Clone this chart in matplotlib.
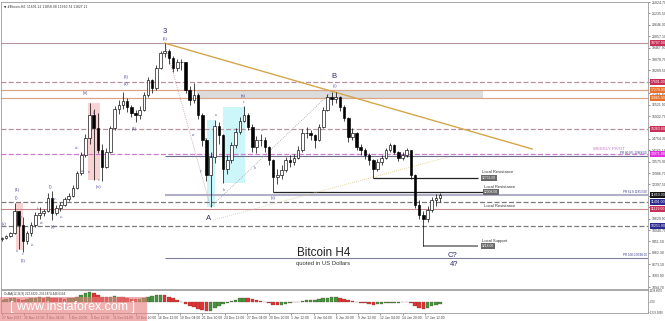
import matplotlib
matplotlib.use('Agg')
import matplotlib.pyplot as plt
from matplotlib.patches import Rectangle
import numpy as np

plt.rcParams['font.family'] = ['Liberation Sans', 'DejaVu Sans']

# ---------------- data ----------------
first_open = 9580
closes = [9630, 9735, 9890, 11000, 10300, 9450, 9900, 10300, 10800, 10900,
          11000, 11700, 10900, 11200, 11350, 11650, 11800, 12200, 12990, 13920,
          14800, 16000, 15300, 14200, 13300, 14100, 15300, 16300, 16500, 16700,
          16400, 16100, 16000, 16250, 17000, 17800, 17380, 18400, 19180, 19300,
          18930, 18400, 18700, 18700, 17280, 16760, 17000, 15990, 14700, 12880,
          13800, 15400, 14950, 13200, 13660, 14440, 15100, 15700, 16000, 15370,
          14330, 14700, 14690, 14330, 13660, 12800, 12880, 13140, 13660, 13560,
          13760, 14180, 15060, 15060, 14950, 14700, 15370, 16240, 16920, 16800,
          16900, 16400, 15830, 14850, 15050, 14330, 14180, 13920, 13660, 13200,
          13560, 13770, 14180, 14440, 14070, 13770, 13920, 14180, 12880, 11340,
          10820, 10600, 11080, 11600, 11700, 11827]
highs = [9700, 9800, 9950, 11440, 11050, 10700, 10000, 10450, 10950, 11250,
         11150, 11950, 12050, 11350, 11500, 11750, 11950, 12350, 13100, 14050,
         15000, 16600, 16300, 16100, 14500, 14300, 15400, 16450, 16750, 17175,
         16850, 16500, 16250, 16450, 17150, 17950, 17850, 18550, 19300, 19700,
         19400, 19050, 18900, 18900, 18750, 17500, 17640, 17100, 16100, 14800,
         14100, 15730, 15600, 15000, 13900, 14600, 15300, 15900, 16450, 16100,
         15500, 14900, 15000, 14850, 14400, 13700, 13200, 13400, 13800, 13900,
         13950, 14400, 15250, 15350, 15200, 15000, 15500, 16400, 17050, 17175,
         17175, 16950, 16500, 15900, 15300, 15100, 14500, 14300, 14000, 13700,
         13700, 13900, 14300, 14550, 14500, 14150, 14050, 14300, 14200, 12950,
         11600, 11000, 11300, 11750, 11900, 11950]
lows = [9500, 9600, 9700, 9850, 9050, 8900, 9300, 9750, 10200, 10600,
        10750, 10950, 10550, 10800, 11050, 11300, 11550, 11750, 12150, 12900,
        13800, 14500, 12650, 14000, 12550, 13250, 14000, 15200, 16050, 16300,
        16150, 15900, 15625, 15800, 16200, 16900, 17100, 17300, 18350, 19000,
        18600, 18200, 18250, 18300, 17100, 16500, 16600, 15800, 14400, 12600,
        11232, 13500, 14500, 12470, 12950, 13500, 14300, 15000, 15600, 15200,
        14100, 14000, 14400, 14100, 13400, 12008, 12400, 12700, 13050, 13300,
        13400, 13700, 14100, 14800, 14700, 14300, 14650, 15300, 16200, 16500,
        16600, 16200, 15700, 14600, 14700, 14200, 13900, 13700, 13400, 12731,
        13100, 13400, 13700, 14100, 13950, 13600, 13650, 13800, 12700, 11200,
        10600, 9218, 10450, 10950, 11300, 11500]
osma = [250, 300, 450, 500, 350, 250, 300, 400, 500, 550,
        500, 520, 480, 420, 400, 380, 400, 450, 600, 850,
        1100, 1250, 1100, 800, 600, 550, 600, 650, 600, 550,
        450, 350, 300, 350, 450, 600, 700, 800, 850, 800,
        600, 400, 150, -100, -350, -550, -700, -900, -1100, -1250,
        -1150, -850, -550, -350, -150, 50, 250, 400, 500, 450,
        350, 200, 50, -100, -250, -400, -450, -400, -300, -200,
        -100, -50, 100, 200, 250, 250, 300, 400, 500, 550,
        550, 450, 300, 150, 50, -50, -150, -250, -350, -400,
        -350, -300, -250, -200, -150, -150, -100, -50, -250, -550,
        -800, -1000, -800, -600, -450, -350]

bar_hours = 12
label_step_hours = 64
date_labels = ['27 Nov 2017', '30 Nov 12:00', '3 Dec 04:00', '5 Dec 20:00', '8 Dec 12:00',
               '11 Dec 04:00', '13 Dec 20:00', '16 Dec 12:00', '19 Dec 04:00', '21 Dec 20:00',
               '24 Dec 12:00', '27 Dec 04:00', '29 Dec 20:00', '1 Jan 12:00', '4 Jan 04:00',
               '6 Jan 20:00', '9 Jan 12:00', '12 Jan 04:00', '14 Jan 20:00', '17 Jan 12:00']

price_top = 21824.70
price_step = 589.2
price_ticks = [price_top - price_step * k for k in range(26)]

ath_level = 19707
dashed_rosy_levels = [17691, 15263]
zone_top, zone_bottom = 17278, 16865
weekly_pivot = 13971
dashed_gray_levels = [11491, 10251]
red_resistance = 11129
fib_808, fib_618, fib_100 = 13868, 11853, 8598
local_res_1, local_res_1_start = 12008, 65
local_res_2, local_res_2_start = 12731, 89
local_sup, local_sup_start = 9218, 101
tag_levels = [19707, 17691, 17278, 16865, 15263, 13971, 11853, 11491, 11129, 10251]
ind_ticks = [1338.885, 0.0, -1338.389]
ind_tick_labels = ['1338.8850', '0.00', '-1338.3890']

# ---------------- figure ----------------
W, H = 665, 321
fig = plt.figure(figsize=(W / 100, H / 100), dpi=100)
fig.patch.set_facecolor('white')
pxbar = 22.25 * bar_hours / label_step_hours  # pixels per bar
x0 = (1 - 2) / pxbar
x1 = (648 - 2) / pxbar

ax = fig.add_axes([1 / W, 1 - 289 / H, 647 / W, 287 / H])
ind = fig.add_axes([1 / W, 1 - 313 / H, 647 / W, 23 / H])

slope = 51.67
ax.set_xlim(x0, x1)
ax.set_ylim(price_top - 287 * slope, price_top)

n = len(closes)
x = np.arange(n)
c = np.array(closes, float)
o = np.array([first_open] + closes[:-1], float)
hi = np.array(highs, float)
lo = np.array(lows, float)

# shaded zones
ax.add_patch(Rectangle((46.8, zone_bottom), 115.3 - 46.8, zone_top - zone_bottom,
                       fc='#dcdcdc', ec='none', zorder=0))
ax.add_patch(Rectangle((3.4, 9011), 1.6, 11439 - 9011, fc='#f9d3d3', ec='none', zorder=0))
ax.add_patch(Rectangle((20.6, 12628), 2.9, 16606 - 12628, fc='#f9d3d3', ec='none', zorder=0))
ax.add_patch(Rectangle((49.2, 11232), 1.9, 15728 - 11232, fc='#cdf6fa', ec='none', zorder=0))
ax.add_patch(Rectangle((53.0, 12473), 5.3, 16400 - 12473, fc='#cdf6fa', ec='none', zorder=0))

# horizontal levels
ax.axhline(ath_level, color='#b8959d', lw=0.8, zorder=1)
for lv in dashed_rosy_levels:
    ax.axhline(lv, color='#b8909e', lw=0.9, dashes=(4, 1.8), zorder=1)
ax.axhline(zone_top, color='#dba58a', lw=0.9, zorder=1)
ax.axhline(zone_bottom, color='#dba58a', lw=0.9, zorder=1)
ax.axhline(weekly_pivot, color='#d07ad0', lw=0.9, dashes=(4, 1.8), zorder=1)
for lv in dashed_gray_levels:
    ax.axhline(lv, color='#7a7a7a', lw=0.9, dashes=(4, 1.8), zorder=1)
ax.axhline(red_resistance, color='#c88890', lw=0.8, zorder=1)
peak_i = int(np.argmax(hi))
ax.hlines(fib_808, peak_i, x1, color='#6e6e8e', lw=0.8, zorder=1)
ax.hlines(fib_618, peak_i, x1, color='#b0b0c8', lw=1.5, zorder=1)
ax.hlines(fib_100, peak_i, x1, color='#7e7e9e', lw=0.8, zorder=1)
ax.hlines(local_res_1, local_res_1_start, 115.3, color='#222222', lw=0.9, zorder=2)
ax.hlines(local_res_2, local_res_2_start, 114.1, color='#222222', lw=0.9, zorder=2)
ax.hlines(local_sup, local_sup_start, 114.1, color='#8a8a8a', lw=1.4, zorder=2)

# trend / wave lines
a_i = 50
b_i = 79
ax.plot([peak_i, 127.1], [hi[peak_i], 14229], color='#d4a64a', lw=1.0, zorder=2)
ax.plot([peak_i, a_i], [hi[peak_i], lo[a_i]], color='#c09aa0', lw=0.6, ls=(0, (1, 1.5)), zorder=2)
ax.plot([a_i, b_i], [lo[a_i], hi[b_i]], color='#a0a0a0', lw=0.6, ls=(0, (1, 1.5)), zorder=2)
ax.plot([50.6, 106.9], [10561, 13816], color='#d8c890', lw=0.6, ls=(0, (1, 1.5)), zorder=2)

# candles
ax.vlines(x, lo, hi, color='black', lw=0.5, zorder=3)
bull = c >= o
bear = ~bull
ax.bar(x[bull], (c - o)[bull], bottom=o[bull], width=0.62, color='white',
       edgecolor='black', lw=0.45, zorder=4)
ax.bar(x[bear], (o - c)[bear], bottom=c[bear], width=0.62, color='black',
       edgecolor='black', lw=0.45, zorder=4)

# wave labels
navy = '#2b2b70'
big_labels = [('3', 39.07, 20326), ('A', 49.4, 10613), ('B', 79.6, 18001),
              ('C?', 107.9, 8752), ('4?', 108.3, 8236)]
for t, xi, yp in big_labels:
    ax.text(xi, yp, t, fontsize=5.5, color=navy, ha='center', va='center', zorder=6)
small_labels = [('(5)', 39.07, 19913), ('(1)', 3.6, 12111), ('(i)', 3.6, 11698), ('(v)', 0.6, 10356),
                ('(2)', 5.03, 8443), ('(3)', 29.7, 17950), ('(v)', 29.7, 17588),
                ('(i)', 11.75, 12266), ('(ii)', 12.2, 10200), ('(iii)', 20.1, 17123),
                ('(iv)', 23.25, 12266), ('(4)', 31.6, 15263), ('(a)', 57.8, 16967),
                ('(b)', 64.95, 11698), ('(c)', 79.8, 17485)]
for t, xi, yp in small_labels:
    ax.text(xi, yp, t, fontsize=2.8, color='#3b3b8b', ha='center', va='center', zorder=6)
tiny_labels = [('a', 3.6, 8950), ('b', 4.55, 10716), ('c', 5.03, 8800), ('b', 22.05, 16090),
               ('a', 20.85, 13041), ('c', 23.25, 12640), ('a', 51.3, 15986), ('b', 53.2, 12111),
               ('c', 58.0, 16658), ('w', 45.8, 14953), ('x', 48.9, 14746), ('y', 47.7, 13093),
               ('a', 62.3, 15211), ('b', 60.6, 13248), ('-i-', 8.6, 11181), ('-ii-', 7.4, 9269),
               ('-iii-', 9.6, 10406), ('-iv-', 12.7, 11646), ('-v-', 14.4, 10716),
               ('-iii-', 18.0, 14281), ('-iv-', 19.4, 13093)]
for t, xi, yp in tiny_labels:
    ax.text(xi, yp, t, fontsize=2.3, color='#55558a', ha='center', va='center', zorder=6)

# titles
ax.text(77.0, price_top - (253 - 2) * slope, 'Bitcoin H4', fontsize=8.4, color='#222222',
        ha='center', va='center', zorder=6)
ax.text(77.0, price_top - (264 - 2) * slope, 'quoted in US Dollars', fontsize=4.2, color='#333333',
        ha='center', va='center', zorder=6)

# local level labels
lbl_x = (482 - 2) / pxbar
ax.text(lbl_x, local_res_2 + 300, 'Local Resistance', fontsize=3, color='#333', ha='left', va='center', zorder=6)
ax.text(lbl_x, local_res_2, f'{local_res_2:.2f}', fontsize=2.4, color='white', ha='left', va='center',
        zorder=6, bbox=dict(boxstyle='square,pad=0.2', fc='#6a6a6a', ec='none'))
lbl_x2 = (484 - 2) / pxbar
ax.text(lbl_x2, local_res_1 + 270, 'Local Resistance', fontsize=3, color='#333', ha='left', va='center', zorder=6)
ax.text(lbl_x2, local_res_1, f'{local_res_1:.2f}', fontsize=2.4, color='white', ha='left', va='center',
        zorder=6, bbox=dict(boxstyle='square,pad=0.2', fc='#6a6a6a', ec='none'))
ax.text(lbl_x2, red_resistance + 160, 'Local Resistance', fontsize=3, color='#333', ha='left', va='center', zorder=6)
ax.text(lbl_x, local_sup + 260, 'Local Support', fontsize=3, color='#333', ha='left', va='center', zorder=6)
ax.text(lbl_x, local_sup, f'{local_sup:.2f}', fontsize=2.4, color='white', ha='left', va='center',
        zorder=6, bbox=dict(boxstyle='square,pad=0.2', fc='#6a6a6a', ec='none'))

ax.text((625 - 2) / pxbar, weekly_pivot + 150, 'WEEKLY PIVOT', fontsize=3.2, color='#c878c8',
        ha='right', va='bottom', zorder=6)
ax.text(x1 - 0.3, fib_808 + 60, f'PR 80.8% {fib_808:.2f}', fontsize=2.2, color='#3a3a8a', ha='right', va='bottom', zorder=6)
ax.text(x1 - 0.3, fib_618 + 60, f'PR 61.8 {fib_618:.2f}', fontsize=2.2, color='#3a3a8a', ha='right', va='bottom', zorder=6)
ax.text(x1 - 0.3, fib_100 + 60, f'PR 100.0 {fib_100:.2f}', fontsize=2.2, color='#3a3a8a', ha='right', va='bottom', zorder=6)

ax.text(0.004, 0.992, '\u25bc #Bitcoin,H4  11691.22 11858.08 11560.74 11827.21', transform=ax.transAxes,
        fontsize=2.2, color='#333', ha='left', va='top', family=['DejaVu Sans'])

# right axis
ax.yaxis.tick_right()
ax.set_yticks(price_ticks)
ax.set_yticklabels([f'{p:.2f}' for p in price_ticks])
ax.tick_params(axis='y', labelsize=2.5, length=1.5, width=0.4, pad=1, colors='#444')
ax.set_xticks([])
for s in ax.spines.values():
    s.set_color('#9a9a9a')
    s.set_linewidth(0.6)

tag_colors = ['#c8305a', '#c8305a', '#e8702a', '#e8702a', '#c8305a', '#e030e0',
              '#151515', '#2a2a90', '#c8305a', '#2a2a90']
for lv, col in zip(tag_levels, tag_colors):
    ax.text(1.004, lv, f'{lv:.2f}', transform=ax.get_yaxis_transform(), fontsize=2.5, color='white',
            ha='left', va='center', clip_on=False, zorder=10,
            bbox=dict(boxstyle='square,pad=0.25', fc=col, ec='none'))

# indicator panel
ind.set_xlim(x0, x1)
ind.set_ylim(-1460, 1460)
vals = np.array(osma, float)
prev = np.concatenate([[vals[0]], vals[:-1]])
cols = np.where(vals >= prev, '#3c9a3c', '#e03434')
ind.bar(x, vals, width=0.85, color=cols, edgecolor='#6a3a3a', lw=0.2, zorder=2)
ind.yaxis.tick_right()
ind.set_yticks(ind_ticks)
ind.set_yticklabels(ind_tick_labels)
ind.tick_params(axis='y', labelsize=2.0, length=1.0, width=0.4, pad=0.5, colors='#444')
tick_pos = [k * label_step_hours / bar_hours for k in range(len(date_labels))]
ind.set_xticks(tick_pos)
ind.set_xticklabels(date_labels, ha='left')
ind.tick_params(axis='x', labelsize=2.4, length=1.5, width=0.4, pad=0.8, colors='#444')
for s in ind.spines.values():
    s.set_color('#9a9a9a')
    s.set_linewidth(0.6)
ind.text(0.004, 0.93, 'OsMA(12,26,9) 213.4320 -233.1874 446.6194', transform=ind.transAxes,
         fontsize=2.2, color='#333', ha='left', va='top')

# watermark
fig.patches.append(Rectangle((0, 0), 147 / W, 24 / H, transform=fig.transFigure,
                             fc=(0.91, 0.50, 0.50, 0.62), ec='none', zorder=20))
fig.text(72 / W, 1 - 307 / H, '[ www.instaforex.com ]', fontsize=9, color='white',
         ha='center', va='center', zorder=21)

fig.savefig('out.png', dpi=100)
